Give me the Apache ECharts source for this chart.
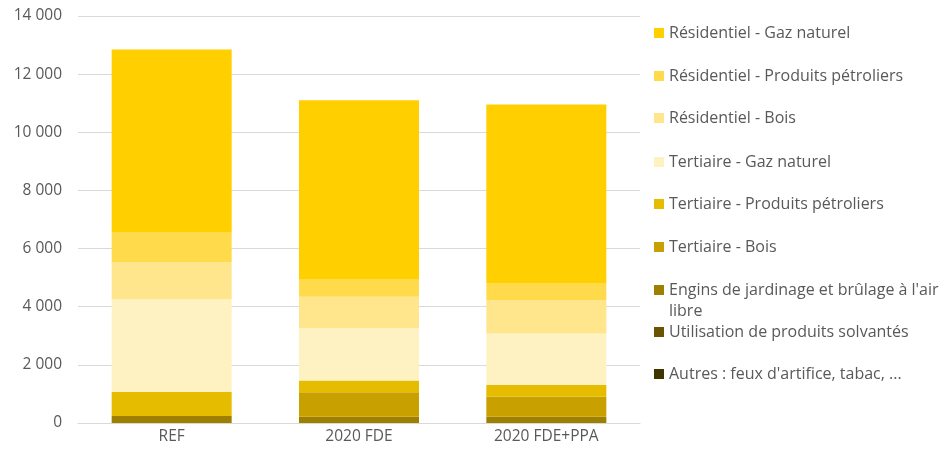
<!DOCTYPE html>
<html>
<head>
<meta charset="utf-8">
<script src="https://cdn.jsdelivr.net/npm/echarts@6/dist/echarts.min.js"></script>
<style>
  html, body { margin: 0; padding: 0; background: #fff; }
  #chart { width: 945px; height: 457px; }
</style>
</head>
<body>
<div id="chart"></div>
<script>
// Scenarios on the x axis
const categories = ['REF', '2020 FDE', '2020 FDE+PPA'];

// Stacked emission sources (bottom of the stack first)
const autres = [0, 0, 0];
const solvants = [0, 0, 0];
const engins = [240, 215, 215];
const tertiaireBois = [0, 840, 690];
const tertiairePetrole = [835, 405, 400];
const tertiaireGaz = [3185, 1795, 1775];
const residentielBois = [1280, 1085, 1145];
const residentielPetrole = [1030, 610, 595];
const residentielGaz = [6280, 6150, 6140];

const yTicks = [0, 2000, 4000, 6000, 8000, 10000, 12000, 14000];

const seriesDefs = [
  { name: 'Résidentiel - Gaz naturel', data: residentielGaz, color: '#FFCF00' },
  { name: 'Résidentiel - Produits pétroliers', data: residentielPetrole, color: '#FFDA4A' },
  { name: 'Résidentiel - Bois', data: residentielBois, color: '#FFE58C' },
  { name: 'Tertiaire - Gaz naturel', data: tertiaireGaz, color: '#FFF2C2' },
  { name: 'Tertiaire - Produits pétroliers', data: tertiairePetrole, color: '#E6BC00' },
  { name: 'Tertiaire - Bois', data: tertiaireBois, color: '#C8A000' },
  { name: "Engins de jardinage et brûlage à l'air libre", data: engins, color: '#9E8000' },
  { name: 'Utilisation de produits solvantés', data: solvants, color: '#6A5400' },
  { name: 'Autres : feux d\'artifice, tabac, ...', data: autres, color: '#3F3300' }
];

const font = '"Open Sans", "Noto Sans", sans-serif';
const grey = '#595959';
const axisFontSize = 15.5;
const legendFontSize = 16;

// Series are stacked bottom-up, so add them in reverse legend order
const series = seriesDefs.slice().reverse().map(d => ({
  name: d.name,
  type: 'bar',
  stack: 'total',
  barWidth: 120,
  itemStyle: { color: d.color },
  emphasis: { disabled: true },
  data: d.data
}));

// One legend block per entry; the long entry wraps onto a second line
const wrapName = "Engins de jardinage et brûlage à l'air libre";
const wrapFirst = "Engins de jardinage et brûlage à l'air";
const wrapSecond = 'libre';
const legendTops = [17, 60, 102, 146, 188, 231, 274, 316, 358];
const legends = seriesDefs.map((d, i) => ({
  data: [d.name],
  left: 649,
  top: legendTops[i],
  orient: 'vertical',
  icon: 'rect',
  itemWidth: 10,
  itemHeight: 10,
  selectedMode: false,
  formatter: name => (name === wrapName ? wrapFirst : name),
  textStyle: { fontFamily: font, fontSize: legendFontSize, color: grey, lineHeight: 22 }
}));

const chart = echarts.init(document.getElementById('chart'), null, { renderer: 'canvas' });
chart.setOption({
  animation: false,
  backgroundColor: '#ffffff',
  grid: { left: 78, right: 305, top: 16, bottom: 34, containLabel: false },
  legend: legends,
  graphic: [{
    type: 'text',
    left: 669,
    top: 303,
    style: { text: wrapSecond, fontFamily: font, fontSize: legendFontSize, fill: grey }
  }],
  xAxis: {
    type: 'category',
    data: categories,
    axisTick: { show: false },
    axisLine: { lineStyle: { color: '#D9D9D9', width: 1 } },
    axisLabel: { color: grey, fontFamily: font, fontSize: axisFontSize, margin: 6 }
  },
  yAxis: {
    type: 'value',
    min: yTicks[0],
    max: yTicks[yTicks.length - 1],
    interval: yTicks[1] - yTicks[0],
    axisLine: { show: false },
    axisTick: { show: false },
    splitLine: { lineStyle: { color: '#D9D9D9', width: 1 } },
    axisLabel: {
      color: grey,
      fontFamily: font,
      fontSize: axisFontSize,
      margin: 16,
      formatter: v => v.toLocaleString('fr-FR').replace(/\s/g, ' ')
    }
  },
  series: series
});
</script>
</body>
</html>
